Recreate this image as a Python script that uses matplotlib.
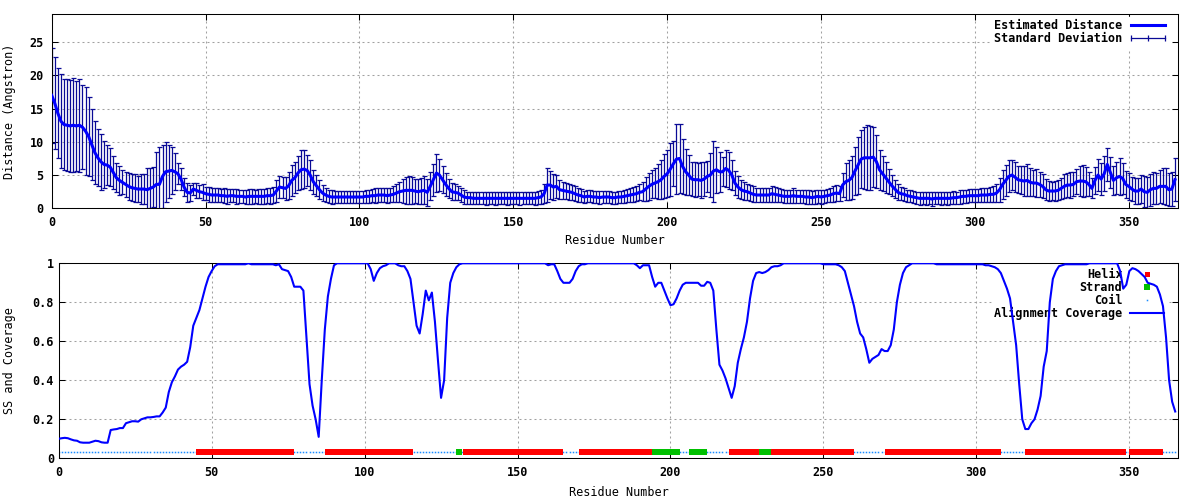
import numpy as np
import matplotlib
matplotlib.use("Agg")
import matplotlib.pyplot as plt
from matplotlib.lines import Line2D

# -----------------------------
# Data (residues 0..365)
# -----------------------------
distance = [
    17.0, 15.8, 14.3, 13.1, 12.6, 12.5, 12.4, 12.5, 12.4, 12.5,
    12.2, 11.6, 10.8, 9.6, 8.4, 7.6, 7.0, 6.6, 6.5, 6.2,
    5.4, 4.6, 4.2, 3.9, 3.6, 3.3, 3.1, 3.0, 2.9, 2.9,
    2.9, 2.8, 3.0, 3.2, 3.6, 3.6, 4.8, 5.5, 5.6, 5.7,
    5.5, 5.2, 4.4, 3.2, 2.4, 2.3, 2.9, 2.7, 2.5, 2.4,
    2.2, 2.1, 2.0, 2.0, 2.0, 1.9, 1.9, 1.8, 1.9, 1.9,
    1.8, 1.8, 1.8, 1.7, 1.8, 1.8, 1.8, 1.8, 1.8, 1.8,
    1.9, 1.9, 2.0, 2.6, 3.2, 3.1, 3.0, 3.4, 4.2, 4.6,
    5.3, 5.8, 5.9, 5.7, 5.0, 4.0, 3.4, 2.8, 2.3, 2.0,
    1.8, 1.7, 1.7, 1.7, 1.7, 1.7, 1.7, 1.7, 1.7, 1.7,
    1.7, 1.7, 1.8, 1.8, 1.9, 1.9, 2.0, 2.0, 2.0, 1.9,
    2.0, 2.1, 2.3, 2.5, 2.6, 2.7, 2.7, 2.7, 2.6, 2.5,
    2.6, 2.7, 2.4, 3.3, 4.3, 5.3, 5.0, 4.3, 3.6, 3.0,
    2.5, 2.4, 2.3, 2.0, 1.7, 1.6, 1.6, 1.5, 1.5, 1.5,
    1.5, 1.5, 1.5, 1.5, 1.5, 1.5, 1.5, 1.5, 1.5, 1.5,
    1.5, 1.5, 1.5, 1.5, 1.5, 1.5, 1.5, 1.5, 1.6, 1.7,
    2.2, 3.5, 3.5, 3.2, 3.3, 2.8, 2.7, 2.6, 2.5, 2.4,
    2.2, 2.0, 1.9, 1.7, 1.8, 1.8, 1.7, 1.7, 1.6, 1.7,
    1.7, 1.7, 1.6, 1.6, 1.7, 1.7, 1.8, 1.9, 2.0, 2.1,
    2.2, 2.4, 2.5, 2.9, 3.3, 3.6, 3.8, 4.0, 4.3, 4.8,
    5.2, 5.9, 6.7, 7.4, 7.5, 6.3, 5.5, 5.0, 4.4, 4.3,
    4.3, 4.2, 4.4, 4.8, 5.0, 5.6, 5.8, 5.5, 5.5, 6.0,
    5.7, 5.0, 3.8, 3.2, 2.8, 2.6, 2.5, 2.3, 2.1, 2.0,
    2.0, 2.0, 2.0, 2.0, 2.2, 2.1, 2.0, 1.9, 1.8, 1.8,
    1.8, 1.9, 1.8, 1.8, 1.8, 1.7, 1.7, 1.6, 1.7, 1.8,
    1.7, 1.8, 1.9, 2.0, 2.2, 2.3, 2.2, 3.5, 4.0, 4.2,
    4.6, 5.6, 6.5, 7.4, 7.6, 7.6, 7.6, 7.7, 7.0, 5.8,
    5.2, 4.6, 4.0, 3.4, 2.9, 2.4, 2.2, 2.1, 1.9, 1.8,
    1.7, 1.6, 1.5, 1.5, 1.5, 1.5, 1.4, 1.5, 1.5, 1.5,
    1.5, 1.5, 1.5, 1.6, 1.6, 1.7, 1.8, 1.8, 1.9, 1.9,
    1.9, 1.9, 2.0, 2.0, 2.0, 2.1, 2.1, 2.3, 2.8, 3.6,
    4.2, 4.8, 5.0, 4.7, 4.3, 4.2, 4.1, 4.2, 3.9, 3.8,
    3.8, 3.6, 3.3, 2.8, 2.6, 2.6, 2.6, 2.7, 3.0, 3.3,
    3.5, 3.5, 3.6, 4.0, 4.1, 4.1, 4.0, 3.6, 3.0, 4.2,
    5.0, 4.4, 5.2, 6.6, 5.4, 4.2, 4.6, 4.8, 4.5, 3.6,
    3.3, 2.9, 2.6, 2.6, 2.9, 2.5, 2.4, 2.8, 3.0, 3.0,
    3.3, 3.3, 3.3, 2.8, 2.9, 4.3,
]

std_dev = [
    7.2, 6.9, 6.8, 7.1, 6.9, 6.9, 6.9, 7.1, 6.8, 7.0,
    6.3, 6.6, 5.9, 5.3, 4.7, 4.3, 4.2, 3.6, 3.0, 2.9,
    2.5, 2.2, 2.2, 1.8, 1.9, 2.0, 2.0, 2.1, 2.0, 2.2,
    2.2, 3.2, 3.0, 3.0, 4.8, 5.6, 4.8, 4.5, 4.0, 3.5,
    2.8, 1.6, 1.6, 1.3, 1.4, 1.2, 0.9, 1.1, 1.0, 1.2,
    1.0, 1.1, 1.0, 1.0, 1.1, 1.0, 1.1, 1.1, 1.0, 1.0,
    1.1, 1.0, 1.0, 1.0, 1.1, 1.1, 1.0, 1.1, 1.1, 1.1,
    1.1, 1.2, 1.2, 1.7, 1.7, 1.6, 1.7, 2.0, 2.3, 2.3,
    2.5, 2.9, 2.8, 2.3, 2.2, 1.8, 1.6, 1.4, 1.2, 1.1,
    1.0, 1.0, 0.9, 0.9, 0.9, 0.9, 0.9, 0.9, 0.9, 0.9,
    0.9, 0.9, 1.0, 1.0, 1.0, 1.1, 1.1, 1.1, 1.1, 1.1,
    1.1, 1.2, 1.3, 1.5, 1.8, 2.0, 2.1, 2.0, 1.8, 1.9,
    2.0, 2.1, 2.0, 2.1, 2.4, 2.8, 2.4, 2.0, 1.7, 1.4,
    1.3, 1.2, 1.1, 1.0, 1.0, 0.9, 0.9, 0.9, 0.9, 0.9,
    0.9, 1.0, 0.9, 0.9, 1.0, 0.9, 0.9, 0.9, 1.0, 0.9,
    0.9, 0.9, 1.0, 0.9, 0.9, 0.9, 0.9, 1.0, 1.0, 1.1,
    1.4, 2.5, 2.1, 2.0, 1.7, 1.4, 1.3, 1.2, 1.2, 1.1,
    1.1, 1.0, 1.0, 0.9, 0.9, 0.9, 0.9, 0.9, 1.0, 0.9,
    0.9, 0.9, 0.9, 0.9, 0.9, 0.9, 1.0, 1.0, 1.0, 1.1,
    1.1, 1.2, 1.4, 1.8, 2.0, 2.1, 2.2, 2.6, 2.9, 3.3,
    3.5, 4.0, 3.4, 5.3, 5.2, 4.1, 3.5, 3.0, 2.5, 2.6,
    2.5, 2.7, 2.5, 2.3, 3.3, 4.6, 3.5, 3.0, 2.2, 2.8,
    2.8, 2.3, 1.8, 1.6, 1.4, 1.3, 1.2, 1.2, 1.2, 1.1,
    1.1, 1.1, 1.0, 1.0, 1.2, 1.1, 1.1, 1.0, 1.0, 1.0,
    1.0, 1.1, 1.0, 1.0, 1.0, 1.0, 1.0, 1.0, 1.1, 1.0,
    1.0, 1.0, 1.0, 1.1, 1.2, 1.2, 1.1, 1.8, 2.8, 3.0,
    3.2, 3.6, 4.3, 4.4, 4.7, 4.9, 4.8, 4.5, 4.0, 3.0,
    2.6, 2.3, 1.9, 1.6, 1.4, 1.2, 1.0, 1.0, 0.9, 0.9,
    0.9, 0.9, 1.0, 0.9, 1.0, 0.9, 1.0, 0.9, 0.9, 1.0,
    0.9, 1.0, 0.9, 1.0, 0.9, 1.0, 1.0, 1.0, 1.0, 1.0,
    1.0, 1.0, 1.0, 1.1, 1.1, 1.1, 1.2, 1.3, 1.8, 2.2,
    2.3, 2.4, 2.3, 2.2, 2.0, 2.1, 2.2, 2.4, 2.1, 2.0,
    2.1, 1.9, 1.8, 1.6, 1.5, 1.4, 1.5, 1.5, 1.6, 1.8,
    1.8, 1.9, 1.8, 1.9, 2.2, 2.4, 2.2, 1.8, 1.5, 2.0,
    2.4, 2.4, 2.6, 2.5, 2.3, 2.2, 2.4, 2.8, 2.3, 2.0,
    2.0, 1.8, 1.9, 1.9, 2.1, 2.3, 2.3, 2.4, 2.4, 2.3,
    2.5, 2.7, 2.8, 2.5, 2.6, 3.2,
]

coverage = [
    0.100, 0.103, 0.105, 0.103, 0.097, 0.092, 0.090, 0.082, 0.080, 0.080,
    0.080, 0.085, 0.090, 0.088, 0.082, 0.080, 0.080, 0.145, 0.148, 0.150,
    0.155, 0.155, 0.180, 0.185, 0.190, 0.190, 0.188, 0.200, 0.205, 0.210,
    0.210, 0.212, 0.215, 0.215, 0.235, 0.260, 0.340, 0.390, 0.420, 0.455,
    0.470, 0.480, 0.495, 0.570, 0.680, 0.720, 0.760, 0.820, 0.880, 0.930,
    0.960, 0.985, 0.995, 0.995, 0.995, 0.995, 0.995, 0.995, 0.995, 0.995,
    0.995, 0.995, 1.000, 0.995, 0.995, 0.995, 0.995, 0.995, 0.995, 0.995,
    0.995, 0.990, 0.995, 0.970, 0.965, 0.960, 0.930, 0.880, 0.880, 0.880,
    0.860, 0.620, 0.380, 0.270, 0.200, 0.110, 0.400, 0.660, 0.830, 0.920,
    0.990, 1.000, 1.000, 1.000, 1.000, 1.000, 1.000, 1.000, 1.000, 1.000,
    1.000, 1.000, 0.970, 0.910, 0.950, 0.975, 0.985, 0.990, 1.000, 1.000,
    1.000, 0.990, 0.985, 0.985, 0.960, 0.920, 0.800, 0.680, 0.640, 0.740,
    0.860, 0.810, 0.850, 0.700, 0.500, 0.310, 0.400, 0.720, 0.900, 0.950,
    0.980, 0.995, 1.000, 1.000, 1.000, 1.000, 1.000, 1.000, 1.000, 1.000,
    1.000, 1.000, 1.000, 1.000, 1.000, 1.000, 1.000, 1.000, 1.000, 1.000,
    1.000, 1.000, 1.000, 1.000, 1.000, 1.000, 1.000, 1.000, 1.000, 1.000,
    0.990, 0.995, 0.995, 0.960, 0.920, 0.900, 0.900, 0.900, 0.920, 0.960,
    0.985, 0.995, 0.995, 1.000, 1.000, 1.000, 1.000, 1.000, 1.000, 1.000,
    1.000, 1.000, 1.000, 1.000, 1.000, 1.000, 1.000, 1.000, 1.000, 0.990,
    0.975, 0.990, 0.990, 0.990, 0.930, 0.880, 0.900, 0.900, 0.860, 0.820,
    0.785, 0.790, 0.820, 0.860, 0.890, 0.900, 0.900, 0.900, 0.900, 0.900,
    0.885, 0.885, 0.905, 0.900, 0.860, 0.660, 0.480, 0.450, 0.410, 0.360,
    0.310, 0.370, 0.490, 0.560, 0.620, 0.700, 0.820, 0.910, 0.950, 0.955,
    0.950, 0.955, 0.965, 0.980, 0.985, 0.985, 0.990, 1.000, 1.000, 1.000,
    1.000, 1.000, 1.000, 1.000, 1.000, 1.000, 1.000, 1.000, 1.000, 1.000,
    0.995, 0.995, 0.995, 0.995, 0.995, 0.990, 0.980, 0.960, 0.900, 0.840,
    0.780, 0.700, 0.640, 0.620, 0.560, 0.490, 0.510, 0.520, 0.530, 0.560,
    0.550, 0.550, 0.580, 0.660, 0.800, 0.890, 0.950, 0.980, 0.990, 1.000,
    1.000, 1.000, 1.000, 1.000, 1.000, 1.000, 1.000, 0.995, 0.995, 0.995,
    0.995, 0.995, 0.995, 0.995, 0.995, 0.995, 0.995, 0.995, 0.995, 0.995,
    0.995, 0.995, 0.995, 0.990, 0.990, 0.985, 0.980, 0.970, 0.950, 0.910,
    0.870, 0.820, 0.700, 0.580, 0.380, 0.200, 0.150, 0.150, 0.180, 0.200,
    0.250, 0.320, 0.470, 0.550, 0.800, 0.920, 0.960, 0.985, 0.990, 0.995,
    0.995, 0.995, 0.995, 0.995, 0.995, 0.995, 0.995, 1.000, 1.000, 1.000,
    1.000, 1.000, 1.000, 1.000, 1.000, 1.000, 1.000, 0.960, 0.870, 0.890,
    0.960, 0.975, 0.970, 0.960, 0.945, 0.930, 0.900, 0.895, 0.890, 0.880,
    0.840, 0.780, 0.620, 0.400, 0.290, 0.240,
]

# secondary structure segments (first, last residue)
helix_segments = [(46, 76), (88, 115), (133, 160), (162, 164), (171, 193),
                  (220, 228), (234, 259), (271, 307), (317, 348), (351, 360)]
strand_segments = [(131, 131), (195, 202), (207, 211), (230, 232)]

residues = np.arange(len(distance))
helix_res = np.concatenate([np.arange(a, b + 1) for a, b in helix_segments])
strand_res = np.concatenate([np.arange(a, b + 1) for a, b in strand_segments])
coil_res = np.setdiff1d(residues, np.concatenate([helix_res, strand_res]))
ss_level = 0.03

# -----------------------------
# Style (gnuplot look)
# -----------------------------
plt.rcParams["font.family"] = "DejaVu Sans Mono"
plt.rcParams["font.weight"] = "bold"
plt.rcParams["font.size"] = 8.5

BLUE = "#0000ff"
NAVY = "#0a0a96"
GRID = "#a0a0a0"


def style_axes(ax, ypad):
    ax.set_axisbelow(True)
    ax.grid(True, color=GRID, linestyle=(0, (1.9, 2.9)), linewidth=0.75)
    ax.tick_params(direction="in", top=True, right=True, length=4.3,
                   width=0.75, labelsize=8.5)
    ax.tick_params(axis="x", pad=5.5)
    ax.tick_params(axis="y", pad=ypad)
    for sp in ax.spines.values():
        sp.set_linewidth(0.75)
    ax.set_xlim(0, 366)
    ax.set_xticks(np.arange(0, 351, 50))


fig = plt.figure(figsize=(12, 5), dpi=100)

# -----------------------------
# Top: estimated distance with standard deviation
# -----------------------------
ax1 = fig.add_axes([0.0431, 0.5834, 0.9386, 0.388])
style_axes(ax1, 5.8)
ax1.errorbar(residues, distance, yerr=std_dev, fmt="none", ecolor=NAVY,
             elinewidth=0.9, capsize=1.8, capthick=0.9, zorder=2)
ax1.plot(residues, distance, color=BLUE, lw=2.2, zorder=3)
ax1.set_ylim(0, 29.2)
ax1.set_yticks(np.arange(0, 26, 5))
ax1.set_xlabel("Residue Number")
ax1.set_ylabel("Distance (Angstron)")
ax1.xaxis.set_label_coords(0.5, -0.135)
ax1.yaxis.set_label_coords(-0.0317, 0.5)

h1 = [Line2D([], [], color=BLUE, lw=2.2),
      Line2D([], [], color=NAVY, lw=0.9, marker="|", markersize=4,
             markeredgewidth=0.9)]
leg1 = ax1.legend(h1, ["Estimated Distance", "Standard Deviation"],
                  loc="upper right", bbox_to_anchor=(0.9936, 0.986),
                  borderaxespad=0, borderpad=0.2, markerfirst=False,
                  numpoints=3, handlelength=3.5, handletextpad=0.4,
                  labelspacing=0.0, fancybox=False, framealpha=1,
                  facecolor="white", edgecolor="white")
leg1.set_zorder(1.5)

# -----------------------------
# Bottom: secondary structure and alignment coverage
# -----------------------------
ax2 = fig.add_axes([0.0489, 0.0834, 0.9330, 0.39])
style_axes(ax2, 3.4)
ax2.plot(coil_res, np.full(len(coil_res), ss_level), ls="none", marker="s",
         markersize=1.1, markeredgewidth=0, color="#1a8cff", zorder=2)
ax2.plot(helix_res, np.full(len(helix_res), ss_level), ls="none", marker="s",
         markersize=4.3, markeredgewidth=0, color="#ff0000", zorder=2)
ax2.plot(strand_res, np.full(len(strand_res), ss_level), ls="none", marker="s",
         markersize=4.6, markeredgewidth=0, color="#00c000", zorder=2)
ax2.plot(residues, coverage, color=BLUE, lw=1.5, zorder=3)
ax2.set_ylim(0, 1)
ax2.set_yticks([0, 0.2, 0.4, 0.6, 0.8, 1.0])
ax2.set_yticklabels(["0", "0.2", "0.4", "0.6", "0.8", "1"])
ax2.set_xlabel("Residue Number")
ax2.set_ylabel("SS and Coverage")
ax2.xaxis.set_label_coords(0.5, -0.142)
ax2.yaxis.set_label_coords(-0.038, 0.5)

h2 = [Line2D([], [], ls="none", marker="s", markersize=3.6,
             markeredgewidth=0, color="#ff0000"),
      Line2D([], [], ls="none", marker="s", markersize=4.8,
             markeredgewidth=0, color="#00c000"),
      Line2D([], [], ls="none", marker="s", markersize=1.1,
             markeredgewidth=0, color="#1a8cff"),
      Line2D([], [], color=BLUE, lw=1.5)]
leg2 = ax2.legend(h2, ["Helix", "Strand", "Coil", "Alignment Coverage"],
                  loc="upper right", bbox_to_anchor=(0.9897, 0.986),
                  borderaxespad=0, borderpad=0.2, markerfirst=False,
                  numpoints=1, handlelength=2.95, handletextpad=0.6,
                  labelspacing=0.0, fancybox=False, framealpha=1,
                  facecolor="white", edgecolor="white")
leg2.set_zorder(1.5)

plt.savefig("out.png", dpi=100)
